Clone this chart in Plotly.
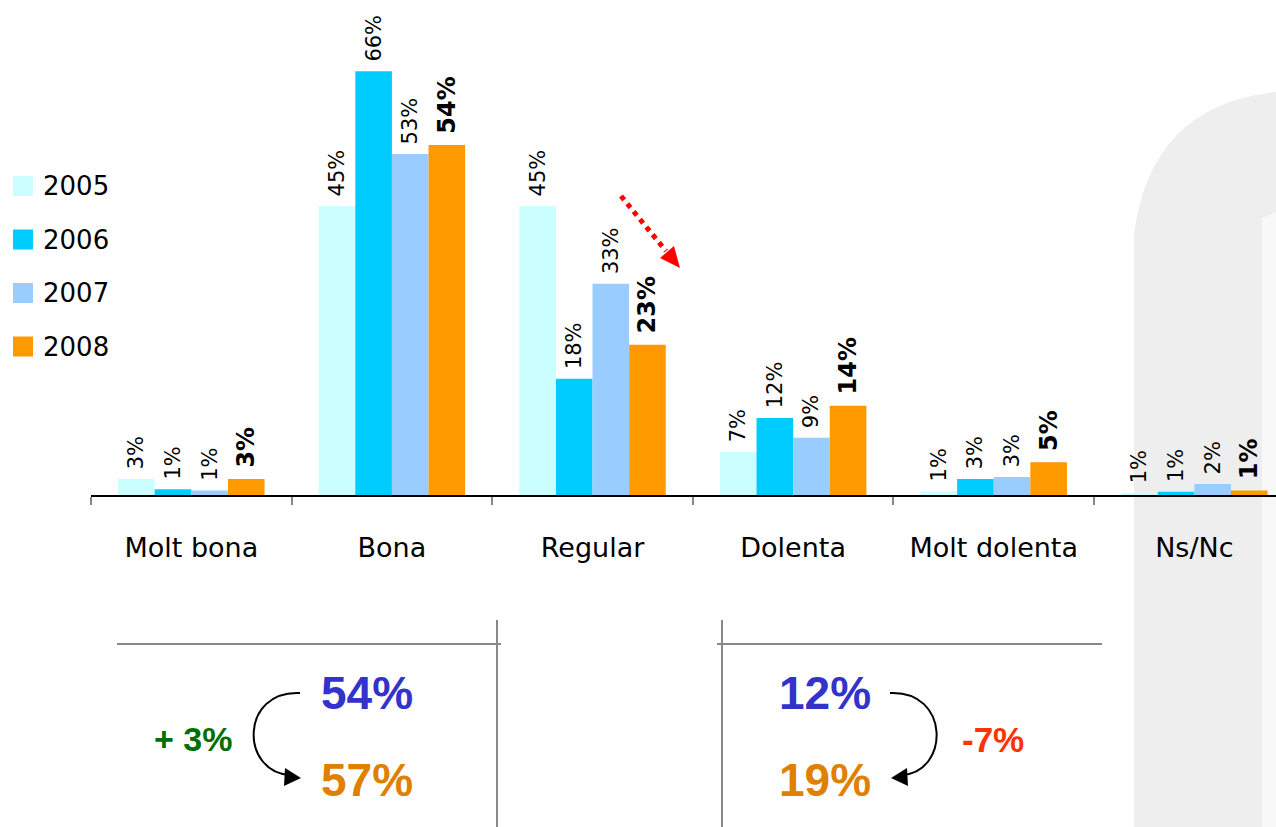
import plotly.graph_objects as go

categories = ["Molt bona", "Bona", "Regular", "Dolenta", "Molt dolenta", "Ns/Nc"]
years = ["2005", "2006", "2007", "2008"]

# bar heights (labels are the printed, rounded values)
v2005 = [2.5, 45.0, 45.0, 6.7, 0.6, 0.3]
v2006 = [0.9, 66.0, 18.1, 12.0, 2.5, 0.5]
v2007 = [0.7, 53.1, 32.9, 8.9, 2.8, 1.7]
v2008 = [2.5, 54.5, 23.4, 13.9, 5.1, 0.7]

t2005 = ["3%", "45%", "45%", "7%", "1%", "1%"]
t2006 = ["1%", "66%", "18%", "12%", "3%", "1%"]
t2007 = ["1%", "53%", "33%", "9%", "3%", "2%"]
t2008 = ["3%", "54%", "23%", "14%", "5%", "1%"]

colors = ["#CCFFFF", "#00CCFF", "#99CCFF", "#FF9900"]

# summary block under the chart
good_before, good_after, good_diff = "54%", "57%", "+ 3%"
bad_before, bad_after, bad_diff = "12%", "19%", "-7%"

W, H = 1276, 827
L, B = 91, 332
PLOT_H = H - B
FONT = "DejaVu Sans, Century Gothic, sans-serif"


def px(x):
    return (x - L) / (W - L)


def py(y):
    return (PLOT_H - y) / PLOT_H


def path(points, close=True):
    s = "M " + " L ".join(f"{px(x):.5f},{py(y):.5f}" for x, y in points)
    return s + (" Z" if close else "")


fig = go.Figure()
series = [v2005, v2006, v2007, v2008]
texts = [t2005, t2006, t2007, t2008]
for i, (yr, vals, txt) in enumerate(zip(years, series, texts)):
    bold = yr == "2008"
    fig.add_trace(go.Bar(
        x=categories, y=vals, name=yr,
        marker=dict(color=colors[i], line=dict(width=0)),
        text=["\u00a0" + t for t in txt],
        textposition="outside", textangle=-90, constraintext="none",
        cliponaxis=False,
        textfont=dict(family=FONT, size=24 if bold else 21, color="black",
                      weight="bold" if bold else "normal"),
        showlegend=False,
    ))

shapes = []
annotations = []

# grey arch in background on the right
shapes.append(dict(type="path", xref="paper", yref="paper", layer="below",
                   path=f"M {px(1134):.5f},{py(827):.5f} L {px(1134):.5f},{py(235):.5f} "
                        f"Q {px(1150):.5f},{py(105):.5f} {px(1276):.5f},{py(92):.5f} "
                        f"L {px(1276):.5f},{py(827):.5f} Z",
                   fillcolor="#EEEEEE", line=dict(width=0)))
shapes.append(dict(type="path", xref="paper", yref="paper", layer="below",
                   path=path([(1262, 218), (1276, 212), (1276, 827), (1262, 827)]),
                   fillcolor="#F8F8F8", line=dict(width=0)))

# manual legend
for i, yr in enumerate(years):
    cy = 186 + i * 53.5
    shapes.append(dict(type="rect", xref="paper", yref="paper",
                       x0=px(13), x1=px(33), y0=py(cy - 10), y1=py(cy + 10),
                       fillcolor=colors[i], line=dict(width=0)))
    annotations.append(dict(xref="paper", yref="paper", x=px(41), y=py(cy),
                            text=yr, showarrow=False, xanchor="left", yanchor="middle",
                            font=dict(family=FONT, size=26, color="black")))

# red dotted arrow over "Regular"
shapes.append(dict(type="line", xref="paper", yref="paper",
                   x0=px(621), y0=py(196), x1=px(666), y1=py(251),
                   line=dict(color="#FF0000", width=5, dash="dot")))
shapes.append(dict(type="path", xref="paper", yref="paper",
                   path=path([(680, 268), (660, 258), (674, 246)]),
                   fillcolor="#FF0000", line=dict(width=0)))

# frame lines of the summary block
grey = dict(color="#888888", width=2)
for x0, x1 in [(117, 501), (717, 1102)]:
    shapes.append(dict(type="line", xref="paper", yref="paper",
                       x0=px(x0), x1=px(x1), y0=py(644), y1=py(644), line=grey))
for x in [497, 722]:
    shapes.append(dict(type="line", xref="paper", yref="paper",
                       x0=px(x), x1=px(x), y0=py(620), y1=py(827), line=grey))

# curved arrows
shapes.append(dict(type="path", xref="paper", yref="paper",
                   path=f"M {px(300):.5f},{py(693):.5f} C {px(240):.5f},{py(690):.5f} "
                        f"{px(240):.5f},{py(772):.5f} {px(290):.5f},{py(775):.5f}",
                   line=dict(color="black", width=2)))
shapes.append(dict(type="path", xref="paper", yref="paper",
                   path=path([(301, 778), (285, 768), (284, 786)]),
                   fillcolor="black", line=dict(width=0)))
shapes.append(dict(type="path", xref="paper", yref="paper",
                   path=f"M {px(890):.5f},{py(693):.5f} C {px(950):.5f},{py(690):.5f} "
                        f"{px(950):.5f},{py(772):.5f} {px(902):.5f},{py(775):.5f}",
                   line=dict(color="black", width=2)))
shapes.append(dict(type="path", xref="paper", yref="paper",
                   path=path([(891, 778), (907, 768), (908, 786)]),
                   fillcolor="black", line=dict(width=0)))

BIG = "Liberation Sans, Arial, sans-serif"
for txt, x, y, col, size in [
    (good_before, 367, 693, "#3333CC", 46),
    (good_after, 367, 780, "#E08000", 46),
    (good_diff, 193, 739, "#006E00", 34),
    (bad_before, 825, 693, "#3333CC", 46),
    (bad_after, 825, 780, "#E08000", 46),
    (bad_diff, 993, 739, "#FF3300", 35),
]:
    annotations.append(dict(xref="paper", yref="paper", x=px(x), y=py(y), text=f"<b>{txt}</b>",
                            showarrow=False, xanchor="center", yanchor="middle",
                            font=dict(family=BIG, size=size, color=col)))

fig.update_layout(
    width=W, height=H,
    margin=dict(l=L, r=0, t=0, b=B),
    barmode="group", bargap=0.27, bargroupgap=0,
    paper_bgcolor="white", plot_bgcolor="rgba(0,0,0,0)",
    shapes=shapes, annotations=annotations,
    font=dict(family=FONT, color="black"),
)
fig.update_xaxes(
    type="category", range=[-0.5, 5.407],
    showline=True, linecolor="black", linewidth=1.5,
    tickson="boundaries", ticks="outside", ticklen=8, tickwidth=1.5, tickcolor="#888888",
    tickfont=dict(family=FONT, size=27, color="black"), ticklabelstandoff=28,
    showgrid=False, zeroline=False,
)
fig.update_yaxes(range=[0, PLOT_H / 6.42], visible=False, showgrid=False, zeroline=False)

# page body has an 8px default margin; drop it so the figure fills the window
fig.write_html("out.html", config={"displayModeBar": False},
               post_script="document.body.style.margin = '0';")
